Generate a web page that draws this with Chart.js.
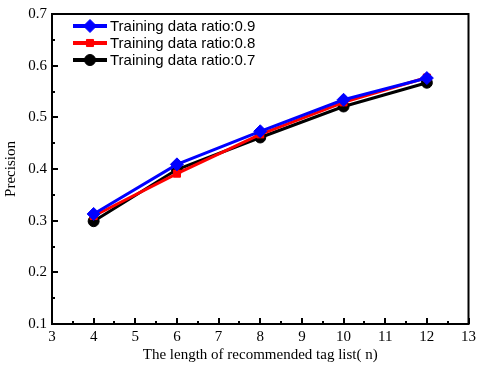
<!DOCTYPE html>
<html>
<head>
<meta charset="utf-8">
<script src="https://cdn.jsdelivr.net/npm/chart.js@4"></script>
<style>
  html, body { margin: 0; padding: 0; background: #fff; }
  #wrap { width: 480px; height: 366px; position: relative; }
</style>
</head>
<body>
<div id="wrap"><canvas id="grafico"></canvas></div>
<script>
const listLengths = [4, 6, 8, 10, 12];
const ratio09 = [0.313, 0.409, 0.473, 0.534, 0.576];
const ratio08 = [0.309, 0.391, 0.467, 0.529, 0.577];
const ratio07 = [0.299, 0.399, 0.461, 0.521, 0.567];
const seriesLabels = ['Training data ratio:0.9', 'Training data ratio:0.8', 'Training data ratio:0.7'];
const xTicks = [3, 4, 5, 6, 7, 8, 9, 10, 11, 12, 13];
const yTicks = [0.1, 0.2, 0.3, 0.4, 0.5, 0.6, 0.7];

function toPoints(vals) {
  return listLengths.map((x, i) => ({ x: x, y: vals[i] }));
}

function serie(label, vals, color, shape, radius) {
  return {
    label: label,
    data: toPoints(vals),
    borderColor: color,
    backgroundColor: color,
    borderWidth: 3,
    pointStyle: shape,
    pointRadius: radius,
    pointBorderWidth: 1,
    pointHoverRadius: radius
  };
}

// marco, ticks hacia adentro y leyenda dentro del area
const marcoPlugin = {
  id: 'marco',
  afterDraw(chart) {
    const ctx = chart.ctx;
    const a = chart.chartArea;
    const xs = chart.scales.x;
    const ys = chart.scales.y;
    ctx.save();
    ctx.strokeStyle = '#000';
    ctx.lineWidth = 2;
    ctx.strokeRect(a.left, a.top, a.right - a.left, a.bottom - a.top);

    ctx.beginPath();
    for (let v = 3; v <= 13.001; v += 0.5) {
      const px = Math.round(xs.getPixelForValue(v));
      const len = Math.abs(v - Math.round(v)) < 0.01 ? 6 : 3;
      ctx.moveTo(px, a.bottom);
      ctx.lineTo(px, a.bottom - len);
    }
    for (let v = 0.1; v <= 0.7001; v += 0.05) {
      const py = Math.round(ys.getPixelForValue(v));
      const major = Math.abs(v * 10 - Math.round(v * 10)) < 0.01;
      ctx.moveTo(a.left, py);
      ctx.lineTo(a.left + (major ? 6 : 3), py);
    }
    ctx.stroke();

    // leyenda
    ctx.font = '15px "Liberation Sans", Arial, sans-serif';
    ctx.textBaseline = 'middle';
    chart.data.datasets.forEach((ds, i) => {
      const y = a.top + 12 + i * 17;
      const x0 = a.left + 21;
      const x1 = a.left + 55;
      ctx.strokeStyle = ds.borderColor;
      ctx.fillStyle = ds.backgroundColor;
      ctx.lineWidth = 4;
      ctx.beginPath();
      ctx.moveTo(x0, y);
      ctx.lineTo(x1, y);
      ctx.stroke();
      ctx.lineWidth = 1;
      Chart.helpers.drawPoint(ctx, {
        pointStyle: ds.pointStyle,
        radius: ds.pointRadius,
        borderWidth: 1
      }, (x0 + x1) / 2, y);
      ctx.fillStyle = '#000';
      ctx.textAlign = 'left';
      ctx.fillText(ds.label, x1 + 3, y + 1);
    });
    ctx.restore();
  }
};

function crearGrafico() {
  const ctx = document.getElementById('grafico').getContext('2d');
  const serifFont = { family: '"Liberation Serif", "Times New Roman", serif', size: 15 };

  return new Chart(ctx, {
    type: 'line',
    data: {
      datasets: [
        serie(seriesLabels[0], ratio09, '#0000ff', 'rectRot', 6.5),
        serie(seriesLabels[1], ratio08, '#ff0000', 'rect', 5),
        serie(seriesLabels[2], ratio07, '#000000', 'circle', 5.5)
      ]
    },
    options: {
      responsive: true,
      maintainAspectRatio: false,
      animation: false,
      layout: { padding: { top: 9, right: 5, left: 0, bottom: 0 } },
      plugins: {
        legend: { display: false },
        tooltip: { enabled: false }
      },
      scales: {
        x: {
          type: 'linear',
          min: 3,
          max: 13,
          afterBuildTicks: s => { s.ticks = xTicks.map(v => ({ value: v })); },
          afterFit: s => { s.height = 42; },
          grid: { display: false, drawTicks: false },
          border: { display: false },
          ticks: { color: '#000', font: serifFont, padding: 4, maxRotation: 0, autoSkip: false },
          title: {
            display: true,
            text: 'The length of recommended tag list( n)',
            color: '#000',
            font: serifFont,
            padding: { top: 0, bottom: 2 }
          }
        },
        y: {
          min: 0.1,
          max: 0.7,
          afterBuildTicks: s => { s.ticks = yTicks.map(v => ({ value: v })); },
          afterFit: s => { s.width = 52; },
          grid: { display: false, drawTicks: false },
          border: { display: false },
          ticks: {
            color: '#000',
            font: serifFont,
            padding: 5,
            callback: v => v.toFixed(1)
          },
          title: {
            display: true,
            text: 'Precision',
            color: '#000',
            font: serifFont,
            padding: { top: 2, bottom: 0 }
          }
        }
      }
    },
    plugins: [marcoPlugin]
  });
}

document.addEventListener('DOMContentLoaded', crearGrafico);
</script>
</body>
</html>
